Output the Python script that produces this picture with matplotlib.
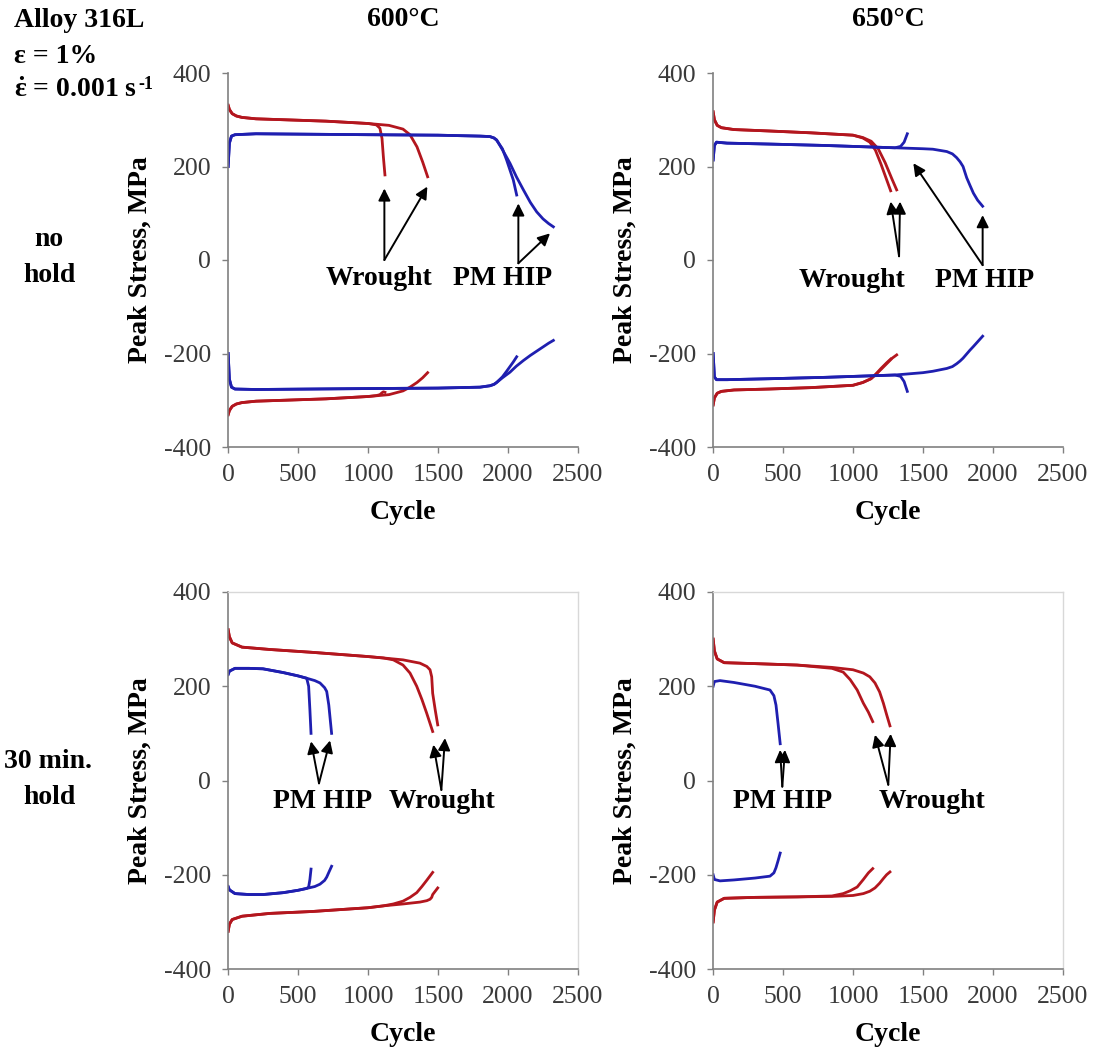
import numpy as np
import matplotlib
matplotlib.use("Agg")
import matplotlib.pyplot as plt

plt.rcParams['font.family'] = ['Liberation Serif', 'DejaVu Serif']
plt.rcParams['axes.unicode_minus'] = False
plt.rcParams['mathtext.fontset'] = 'custom'
plt.rcParams['mathtext.rm'] = 'Liberation Serif:bold'
plt.rcParams['mathtext.it'] = 'Liberation Serif:bold'
plt.rcParams['mathtext.bf'] = 'Liberation Serif:bold'

# ---- data (cycle, peak max stress, peak min stress) ----
# 600C, no hold
tl_wr1_cyc = [1, 10, 30, 60, 100, 200, 400, 700, 1000, 1060, 1085, 1100, 1110, 1121]
tl_wr1_max = [331, 322, 313, 308, 305, 302, 300, 297, 292, 289, 282, 260, 220, 182]
tl_wr1_min = [-331, -322, -313, -308, -305, -302, -300, -297, -292, -290, -288, -284, -282, -283]
tl_wr2_cyc = [1, 10, 30, 60, 100, 200, 400, 700, 1000, 1150, 1250, 1300, 1350, 1390, 1426]
tl_wr2_max = [331, 322, 313, 308, 305, 302, 300, 297, 292, 288, 280, 268, 242, 210, 178]
tl_wr2_min = [-331, -322, -313, -308, -305, -302, -300, -297, -292, -288, -280, -272, -262, -252, -241]
tl_pm1_cyc = [1, 10, 25, 50, 200, 600, 1000, 1500, 1800, 1871, 1900, 1919, 1960, 1990, 2038, 2062]
tl_pm1_max = [200, 250, 265, 268, 270, 269, 268, 267, 265, 264, 261, 256, 238, 214, 171, 139]
tl_pm1_min = [-200, -255, -272, -276, -277, -276, -275, -274, -272, -269, -266, -262, -250, -238, -218, -207]
tl_pm2_cyc = [1, 10, 25, 50, 200, 600, 1000, 1500, 1800, 1871, 1900, 1919, 1960, 2014, 2060, 2110,
              2160, 2205, 2250, 2290, 2324]
tl_pm2_max = [200, 250, 265, 268, 270, 269, 268, 267, 265, 264, 261, 257, 236, 207, 178, 150,
              123, 103, 88, 78, 71]
tl_pm2_min = [-200, -255, -272, -276, -277, -276, -275, -274, -272, -269, -266, -262, -252, -240, -227, -215,
              -204, -195, -186, -178, -172]

# 650C, no hold
tr_wr1_cyc = [1, 10, 30, 60, 150, 400, 700, 1000, 1070, 1120, 1160, 1200, 1240, 1269]
tr_wr1_max = [317, 300, 288, 283, 279, 276, 272, 267, 261, 252, 235, 205, 172, 148]
tr_wr1_min = [-310, -295, -285, -281, -278, -276, -273, -268, -262, -255, -245, -232, -220, -212]
tr_wr2_cyc = [1, 10, 30, 60, 150, 400, 700, 1000, 1070, 1130, 1180, 1230, 1280, 1312]
tr_wr2_max = [317, 300, 288, 283, 279, 276, 272, 267, 262, 254, 238, 208, 172, 150]
tr_wr2_min = [-310, -295, -285, -281, -278, -276, -273, -268, -262, -254, -240, -225, -210, -203]
tr_pm1_cyc = [1, 10, 25, 100, 400, 800, 1100, 1300, 1340, 1365, 1388]
tr_pm1_max = [214, 245, 252, 250, 248, 245, 242, 240, 243, 252, 270]
tr_pm1_min = [-200, -250, -256, -256, -254, -251, -248, -246, -249, -260, -281]
tr_pm2_cyc = [1, 10, 25, 100, 400, 800, 1100, 1300, 1500, 1570, 1670, 1710, 1740, 1765, 1786,
              1812, 1835, 1860, 1890, 1926]
tr_pm2_max = [214, 245, 252, 250, 248, 245, 242, 240, 238, 237, 232, 227, 219, 210, 200,
              176, 160, 143, 128, 115]
tr_pm2_min = [-200, -250, -256, -256, -254, -251, -248, -246, -241, -238, -232, -228, -222, -216, -210,
              -201, -193, -185, -175, -163]

# 600C, 30 min hold
bl_wr1_cyc = [1, 10, 30, 100, 300, 600, 1000, 1110, 1181, 1250, 1300, 1348, 1385, 1419, 1462]
bl_wr1_max = [320, 305, 292, 283, 278, 272, 263, 260, 256, 245, 228, 200, 172, 143, 104]
bl_wr1_min = [-320, -305, -295, -288, -282, -278, -270, -266, -262, -256, -248, -238, -225, -212, -195]
bl_wr2_cyc = [1, 10, 30, 100, 300, 600, 1000, 1110, 1250, 1371, 1420, 1443, 1455, 1462, 1480, 1498]
bl_wr2_max = [320, 305, 292, 283, 278, 272, 263, 260, 256, 249, 242, 235, 220, 185, 150, 118]
bl_wr2_min = [-320, -305, -295, -288, -282, -278, -270, -266, -262, -258, -255, -252, -248, -242, -235, -228]
bl_pm1_cyc = [1, 10, 50, 150, 250, 395, 500, 562, 576, 585, 593]
bl_pm1_max = [225, 232, 238, 238, 237, 229, 222, 217, 200, 150, 100]
bl_pm1_min = [-225, -232, -240, -242, -242, -238, -233, -229, -226, -210, -188]
bl_pm2_cyc = [1, 10, 50, 150, 250, 395, 500, 562, 620, 657, 690, 705, 720, 740]
bl_pm2_max = [225, 232, 238, 238, 237, 229, 222, 217, 212, 207, 197, 189, 160, 100]
bl_pm2_min = [-225, -232, -240, -242, -242, -238, -233, -229, -225, -220, -212, -205, -195, -182]

# 650C, 30 min hold
br_wr1_cyc = [1, 10, 30, 80, 300, 600, 850, 930, 980, 1030, 1074, 1110, 1141]
br_wr1_max = [300, 275, 258, 250, 248, 245, 238, 230, 214, 192, 164, 145, 125]
br_wr1_min = [-300, -275, -258, -250, -248, -247, -245, -240, -234, -226, -210, -196, -187]
br_wr2_cyc = [1, 10, 30, 80, 300, 600, 850, 1000, 1074, 1120, 1157, 1190, 1217, 1240, 1264]
br_wr2_max = [300, 275, 258, 250, 248, 245, 240, 235, 228, 220, 207, 188, 164, 140, 116]
br_wr2_min = [-300, -275, -258, -250, -248, -247, -246, -244, -240, -235, -228, -218, -208, -200, -194]
br_pm_cyc = [1, 10, 50, 150, 300, 407, 435, 450, 465, 480]
br_pm_max = [200, 210, 212, 208, 200, 192, 180, 160, 120, 78]
br_pm_min = [-200, -210, -213, -211, -207, -203, -196, -185, -170, -154]

col_titles = ["600°C", "650°C"]
x_ticks = [0, 500, 1000, 1500, 2000, 2500]
y_ticks = [-400, -200, 0, 200, 400]

RED = '#b3161e'
BLUE = '#1f1fb0'
SPINE = '#808080'

fig = plt.figure(figsize=(10.98, 10.53), dpi=100)

W, H = 1098.0, 1053.0
def axes_at(x0, y_top, y_bot, w=350):
    return fig.add_axes([x0 / W, 1 - y_bot / H, w / W, (y_bot - y_top) / H])

ax_tl = axes_at(228, 73, 447)
ax_tr = axes_at(713, 73, 447)
ax_bl = axes_at(228, 592, 969)
ax_br = axes_at(713, 592, 969)

def curve(ax, cyc, mx, mn, color):
    ax.plot(cyc, mx, color=color, lw=2.0)
    ax.plot(cyc, mn, color=color, lw=2.0)

curve(ax_tl, tl_wr1_cyc, tl_wr1_max, tl_wr1_min, RED)
curve(ax_tl, tl_wr2_cyc, tl_wr2_max, tl_wr2_min, RED)
curve(ax_tl, tl_pm1_cyc, tl_pm1_max, tl_pm1_min, BLUE)
curve(ax_tl, tl_pm2_cyc, tl_pm2_max, tl_pm2_min, BLUE)

curve(ax_tr, tr_wr1_cyc, tr_wr1_max, tr_wr1_min, RED)
curve(ax_tr, tr_wr2_cyc, tr_wr2_max, tr_wr2_min, RED)
curve(ax_tr, tr_pm1_cyc, tr_pm1_max, tr_pm1_min, BLUE)
curve(ax_tr, tr_pm2_cyc, tr_pm2_max, tr_pm2_min, BLUE)

curve(ax_bl, bl_wr1_cyc, bl_wr1_max, bl_wr1_min, RED)
curve(ax_bl, bl_wr2_cyc, bl_wr2_max, bl_wr2_min, RED)
curve(ax_bl, bl_pm1_cyc, bl_pm1_max, bl_pm1_min, BLUE)
curve(ax_bl, bl_pm2_cyc, bl_pm2_max, bl_pm2_min, BLUE)

curve(ax_br, br_wr1_cyc, br_wr1_max, br_wr1_min, RED)
curve(ax_br, br_wr2_cyc, br_wr2_max, br_wr2_min, RED)
curve(ax_br, br_pm_cyc, br_pm_max, br_pm_min, BLUE)

for i, ax in enumerate([ax_tl, ax_tr, ax_bl, ax_br]):
    ax.set_xlim(0, 2500)
    ax.set_ylim(-400, 400)
    ax.set_xticks(x_ticks)
    ax.set_yticks(y_ticks)
    ax.tick_params(direction='out', length=4, width=1, color=SPINE,
                   labelsize=18.5, labelcolor='#3a3a3a', pad=8)
    for s in ['left', 'bottom']:
        ax.spines[s].set_color(SPINE)
        ax.spines[s].set_linewidth(1.2)
    if i < 2:
        ax.spines['top'].set_visible(False)
        ax.spines['right'].set_visible(False)
    else:
        for s in ['top', 'right']:
            ax.spines[s].set_color('#d8d8d8')
            ax.spines[s].set_linewidth(1.0)
    ax.set_xlabel('Cycle', fontsize=20, fontweight='bold', va='center')
    ax.xaxis.set_label_coords(0.5, -0.175)
    ax.set_ylabel('Peak Stress, MPa', fontsize=20, fontweight='bold', va='center')
    ax.yaxis.set_label_coords(-0.25, 0.5)

# ---- annotations ----
def label(ax, text, pos, tail, heads):
    ax.text(pos[0], pos[1], text, fontsize=20, fontweight='bold',
            ha='center', va='center')
    for h in heads:
        ax.annotate('', xy=h, xytext=tail,
                    arrowprops=dict(arrowstyle='-|>', color='black', lw=1.4,
                                    mutation_scale=18, shrinkA=0, shrinkB=0))

label(ax_tl, 'Wrought', (1078, -40), (1117, 0), [(1117, 153), (1424, 157)])
label(ax_tl, 'PM HIP', (1963, -40), (2074, -7), [(2074, 121), (2300, 57)])
label(ax_tr, 'Wrought', (990, -43), (1329, 8), [(1269, 125), (1336, 125)])
label(ax_tr, 'PM HIP', (1943, -43), (1926, -11), [(1431, 207), (1926, 96)])
label(ax_bl, 'PM HIP', (675, -45), (650, -6), [(593, 83), (729, 85)])
label(ax_bl, 'Wrought', (1532, -45), (1524, -20), [(1467, 76), (1550, 90)])
label(ax_br, 'PM HIP', (496, -45), (495, -13), [(479, 65), (514, 65)])
label(ax_br, 'Wrought', (1562, -45), (1252, -9), [(1157, 97), (1269, 99)])

# ---- figure texts ----
fig.text(403 / W, 1 - 20 / H, col_titles[0], fontsize=20, fontweight='bold', ha='center', va='center')
fig.text(888 / W, 1 - 20 / H, col_titles[1], fontsize=20, fontweight='bold', ha='center', va='center')

fig.text(49 / W, 1 - 240 / H, 'no', fontsize=20, fontweight='bold', ha='center', va='center')
fig.text(49 / W, 1 - 275 / H, 'hold', fontsize=20, fontweight='bold', ha='center', va='center')
fig.text(48 / W, 1 - 762 / H, '30 min.', fontsize=20, fontweight='bold', ha='center', va='center')
fig.text(49 / W, 1 - 798 / H, 'hold', fontsize=20, fontweight='bold', ha='center', va='center')

fig.text(14 / W, 1 - 27 / H, 'Alloy 316L', fontsize=20, fontweight='bold', va='baseline')
fig.text(14 / W, 1 - 63 / H, 'ε = 1%', fontsize=20, fontweight='bold', va='baseline')
rate = fig.text(14 / W, 1 - 97 / H, r'$\dot{\varepsilon}$ = 0.001 s', fontsize=20,
                fontweight='bold', va='baseline')
plt.annotate('-1', xy=(1, 0), xycoords=rate, xytext=(1, 10), textcoords='offset points',
             fontsize=13, fontweight='bold', va='baseline', ha='left')

fig.savefig('out.png', dpi=100)
